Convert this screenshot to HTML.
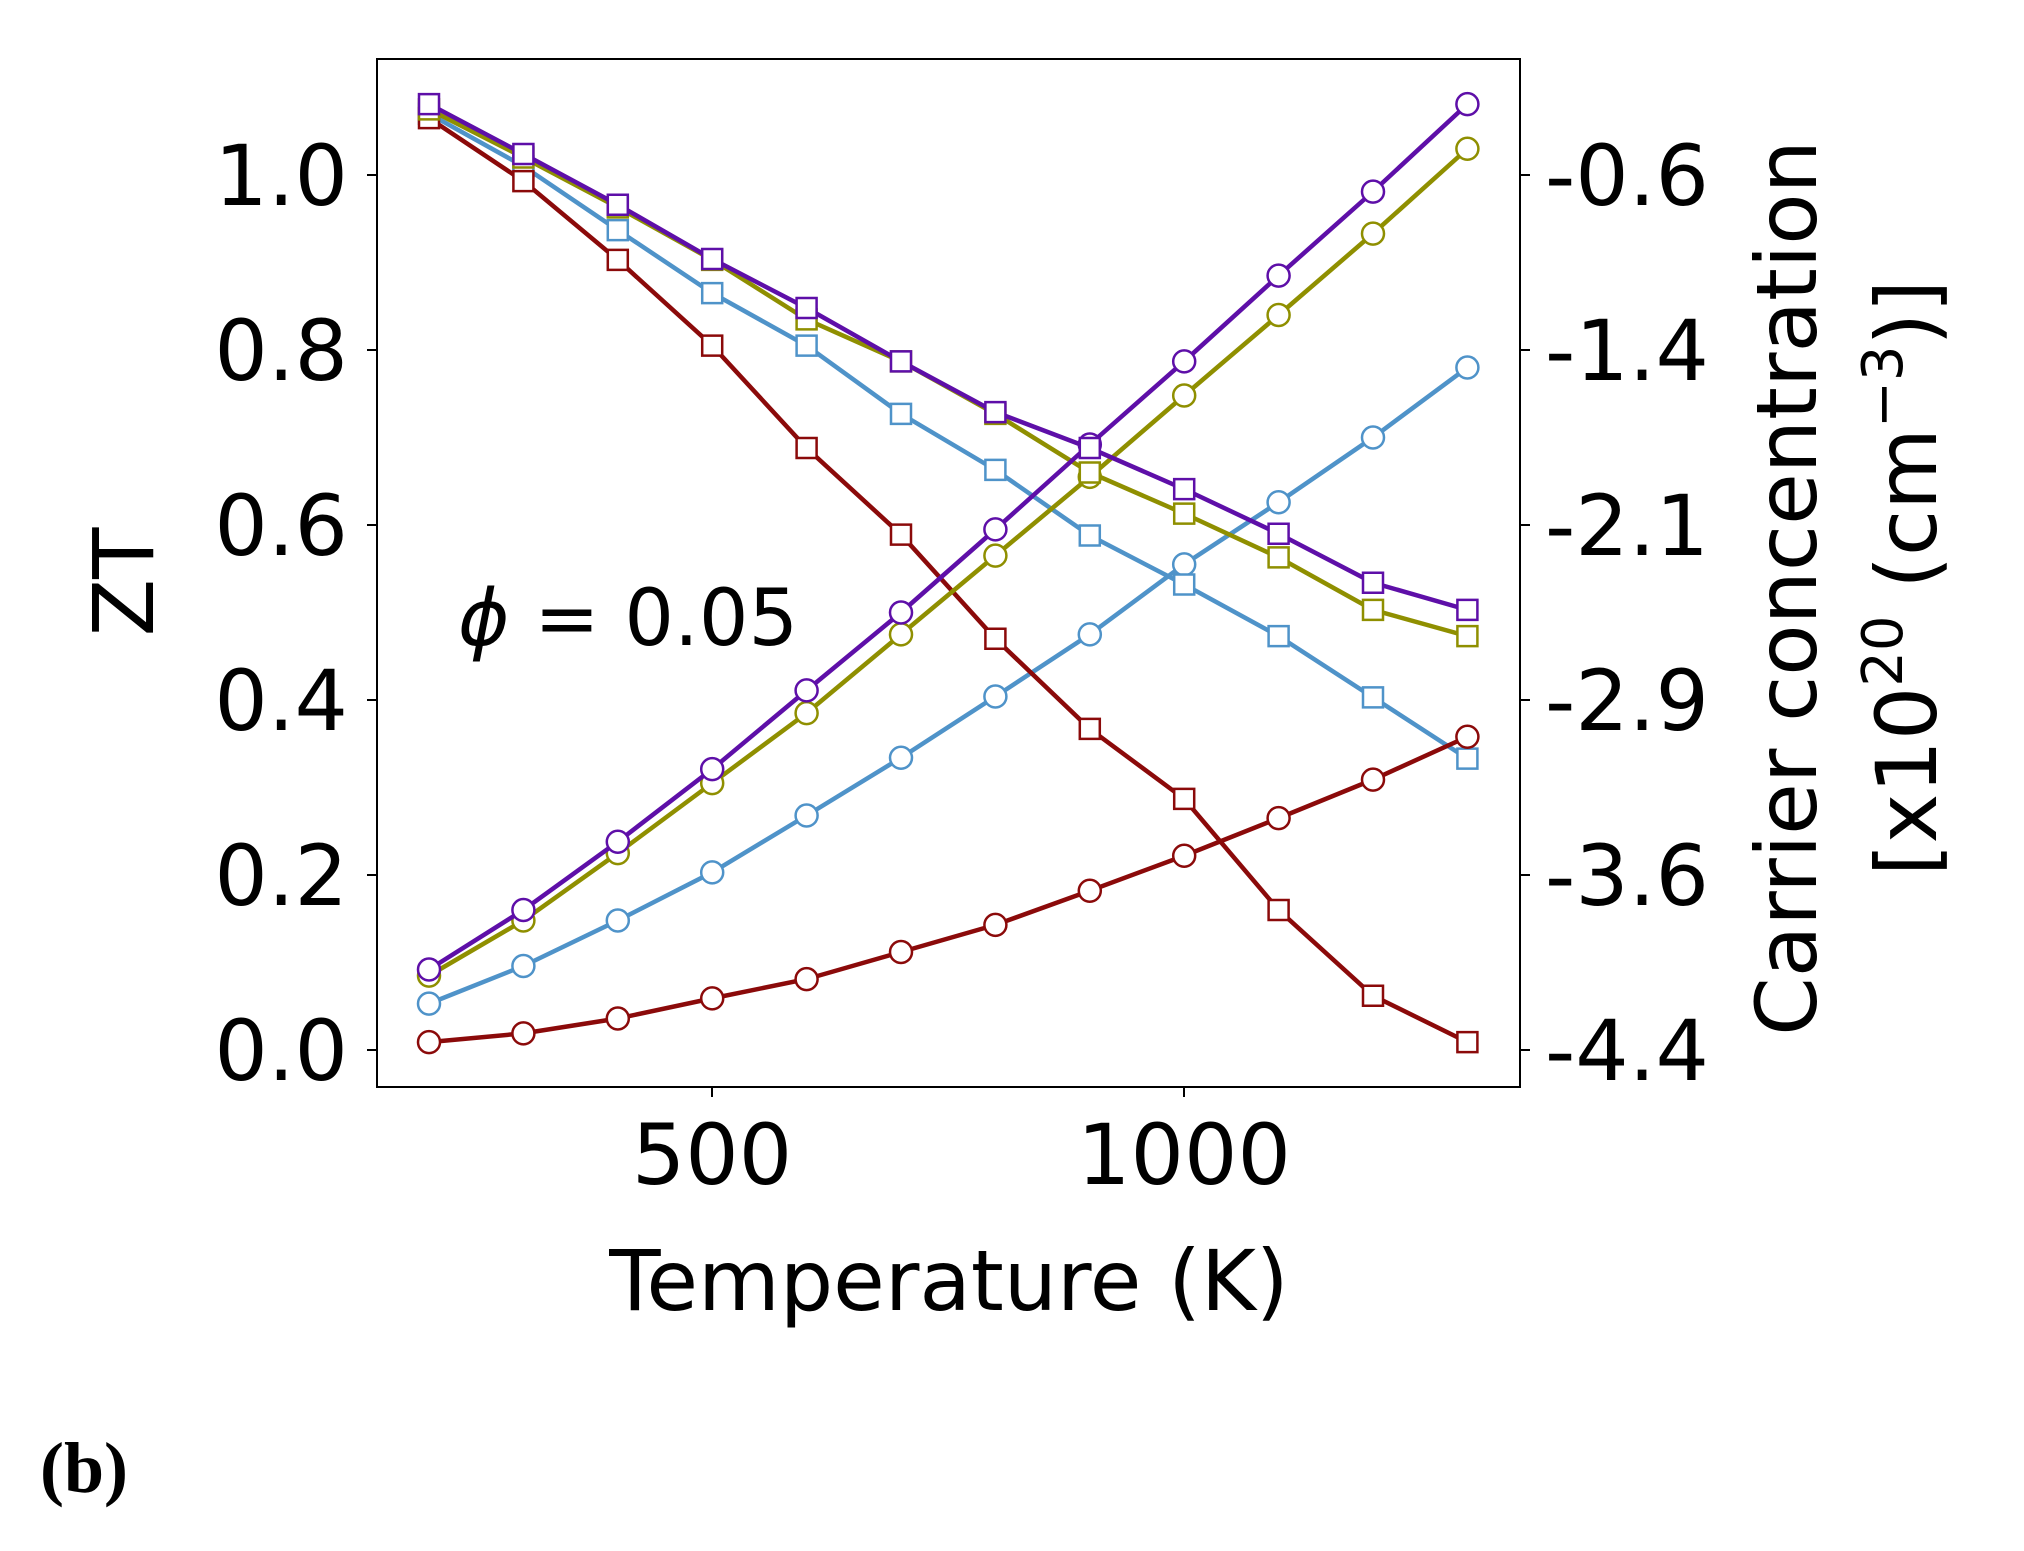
<!DOCTYPE html>
<html><head><meta charset="utf-8"><style>
html,body{margin:0;padding:0;background:#fff;}
svg{display:block;}
text{font-family:"DejaVu Sans","Liberation Sans",sans-serif;fill:#000;}
</style></head><body>
<svg id="s" width="2024" height="1551" viewBox="0 0 2024 1551" xmlns="http://www.w3.org/2000/svg">
<rect x="377" y="59" width="1143" height="1028" fill="none" stroke="#000" stroke-width="2"/>
<g id="ticks" stroke="#000" stroke-width="2"></g>
<g font-size="84" text-anchor="end">
<text x="348" y="205">1.0</text>
<text x="348" y="380">0.8</text>
<text x="348" y="555">0.6</text>
<text x="348" y="730">0.4</text>
<text x="348" y="905">0.2</text>
<text x="348" y="1080">0.0</text>
</g>
<g font-size="84" text-anchor="start">
<text x="1545" y="205">-0.6</text>
<text x="1545" y="380">-1.4</text>
<text x="1545" y="555">-2.1</text>
<text x="1545" y="730">-2.9</text>
<text x="1545" y="905">-3.6</text>
<text x="1545" y="1080">-4.4</text>
</g>
<g font-size="84" text-anchor="middle">
<text x="712" y="1184">500</text>
<text x="1184" y="1184">1000</text>
<text x="949" y="1310">Temperature (K)</text>
</g>
<text font-size="84" text-anchor="middle" transform="translate(153,582) rotate(-90)">ZT</text>
<text font-size="84" text-anchor="middle" transform="translate(1816,588) rotate(-90)">Carrier concentration</text>
<text font-size="84" text-anchor="middle" transform="translate(1936,578) rotate(-90)">[x10<tspan font-size="56" dy="-34">20</tspan><tspan dy="34"> (cm</tspan><tspan font-size="56" dy="-34">−3</tspan><tspan dy="34">)]</tspan></text>
<text x="458" y="645" font-size="78"><tspan font-style="italic">ϕ</tspan> = 0.05</text>
<text x="40" y="1492" font-size="72" font-weight="bold" style="font-family:'Liberation Serif',serif">(b)</text>
<g id="data"></g>
</svg>
<script>
function X(i){return 429+94.4*i;}
function Y(v){return 1050-875*v;}
var t=document.getElementById('ticks');
[0,0.2,0.4,0.6,0.8,1.0].forEach(function(v){var y=Y(v);
 t.innerHTML+='<line x1="367" y1="'+y+'" x2="377" y2="'+y+'"/><line x1="1520" y1="'+y+'" x2="1530" y2="'+y+'"/>';});
[712,1184].forEach(function(x){t.innerHTML+='<line x1="'+x+'" y1="1087" x2="'+x+'" y2="1097"/>';});
var S=[
 ['#4f93c9','c',[0.053,0.096,0.148,0.203,0.268,0.334,0.404,0.475,0.555,0.626,0.700,0.780]],
 ['#4f93c9','s',[1.07,1.01,0.937,0.865,0.805,0.727,0.663,0.588,0.532,0.473,0.403,0.333]],
 ['#8b0a0a','c',[0.009,0.019,0.036,0.059,0.081,0.112,0.143,0.182,0.222,0.265,0.309,0.358]],
 ['#8b0a0a','s',[1.065,0.993,0.903,0.805,0.688,0.589,0.47,0.367,0.287,0.16,0.062,0.009]],
 ['#8f8f00','c',[0.085,0.148,0.225,0.305,0.385,0.475,0.565,0.655,0.748,0.84,0.933,1.03]],
 ['#8f8f00','s',[1.075,1.02,0.963,0.903,0.835,0.787,0.727,0.66,0.613,0.563,0.503,0.473]],
 ['#5e0fa8','c',[0.092,0.160,0.238,0.321,0.411,0.500,0.595,0.692,0.787,0.885,0.981,1.081]],
 ['#5e0fa8','s',[1.081,1.024,0.966,0.904,0.848,0.787,0.729,0.688,0.641,0.590,0.534,0.503]]
];
var h='';
S.forEach(function(s){
 var p=s[2].map(function(v,i){return X(i)+','+Y(v);}).join(' ');
 h+='<polyline points="'+p+'" fill="none" stroke="'+s[0]+'" stroke-width="4.5"/>';
 s[2].forEach(function(v,i){
  if(s[1]=='c')h+='<circle cx="'+X(i)+'" cy="'+Y(v)+'" r="11" fill="#fff" stroke="'+s[0]+'" stroke-width="2.5"/>';
  else h+='<rect x="'+(X(i)-10)+'" y="'+(Y(v)-10)+'" width="20" height="20" fill="#fff" stroke="'+s[0]+'" stroke-width="2.5"/>';
 });
});
document.getElementById('data').innerHTML=h;
</script>
</body></html>
